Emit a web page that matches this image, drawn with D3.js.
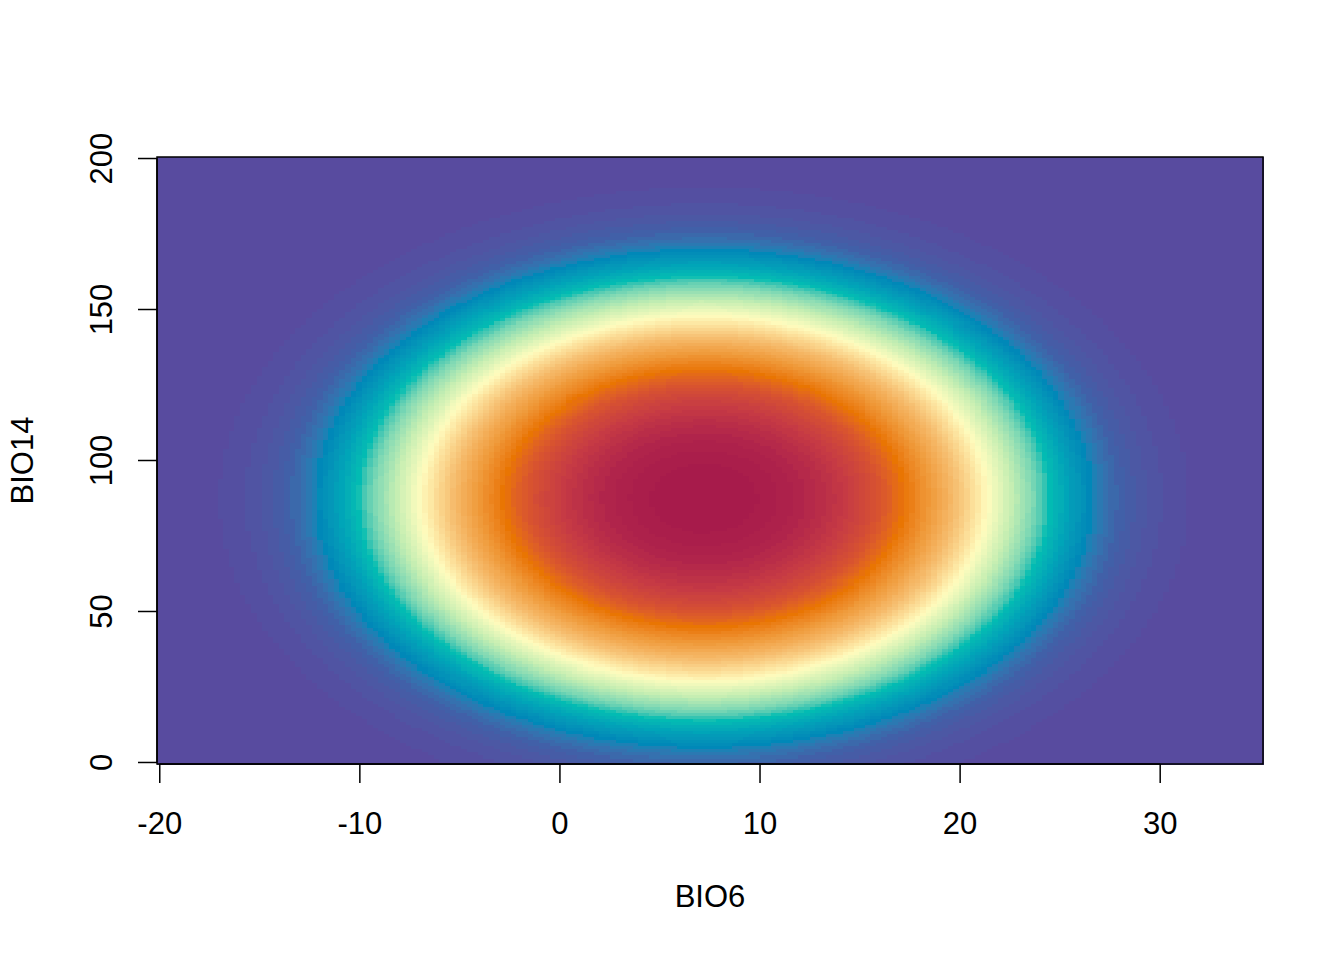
<!DOCTYPE html>
<html>
<head>
<meta charset="utf-8">
<script src="https://cdn.jsdelivr.net/npm/d3@7"></script>
<style>
  body { margin: 0; background: #fff; }
  text { font-family: "Liberation Sans", Arial, Helvetica, sans-serif; fill: #000; }
</style>
</head>
<body>
<svg id="chart"></svg>
<script>
// grid of the response surface (BIO6 x BIO14)
const bio6Range = [-20, 35];
const bio14Range = [0, 200];
const gridCount = [200, 200];

// fitted logistic model, quadratic terms
const coefNames = ["(Intercept)", "BIO6", "I(BIO6^2)", "BIO14", "I(BIO14^2)"];
const coefValues = [-3.451, 0.16525, -0.011476, 0.11087, -0.0006328];

const xTicks = [-20, -10, 0, 10, 20, 30];
const yTicks = [0, 50, 100, 150, 200];
const xTitle = "BIO6";
const yTitle = "BIO14";

// reversed "Spectral", low -> high
const paletteStops = [0, 0.05, 0.10, 0.16, 0.22, 0.28, 0.37, 0.48, 0.62, 0.72, 0.80, 0.86, 0.92, 0.97, 1];
const paletteColors = ["#584B9F", "#4160A8", "#0088B8", "#00A4B8", "#00BFB2", "#7DD8B4", "#C4EEB2",
                       "#FEFCBE", "#F6BE70", "#EF9A3A", "#E97400", "#D85230", "#C63A44", "#B0244B", "#A71B4B"];
const nColors = 100;

window.onload = function() {
    const width = 1344, height = 960;
    const left = 157, right = 1263, top = 157, bottom = 764;
    const fontSize = "31px";

    var svg = d3.select("#chart").attr("width", width).attr("height", height);

    var xs = d3.range(gridCount[0]).map(i => bio6Range[0] + i * (bio6Range[1] - bio6Range[0]) / (gridCount[0] - 1));
    var ys = d3.range(gridCount[1]).map(j => bio14Range[0] + j * (bio14Range[1] - bio14Range[0]) / (gridCount[1] - 1));
    var dx = xs[1] - xs[0], dy = ys[1] - ys[0];

    var coef = {};
    coefNames.forEach((n, i) => coef[n] = coefValues[i]);

    function predict(a, b) {
        var eta = coef["(Intercept)"] + coef["BIO6"] * a + coef["I(BIO6^2)"] * a * a
                + coef["BIO14"] * b + coef["I(BIO14^2)"] * b * b;
        return 1 / (1 + Math.exp(-eta));
    }

    var cells = [];
    xs.forEach(function(a, i) {
        ys.forEach(function(b, j) {
            cells.push({x: a, y: b, z: predict(a, b)});
        });
    });

    var x = d3.scaleLinear().domain([bio6Range[0] - dx / 2, bio6Range[1] + dx / 2]).range([left, right]);
    var y = d3.scaleLinear().domain([bio14Range[0] - dy / 2, bio14Range[1] + dy / 2]).range([bottom, top]);

    var ramp = d3.scaleLinear().domain(paletteStops).range(paletteColors).interpolate(d3.interpolateLab);
    var cols = d3.range(nColors).map(k => ramp(k / (nColors - 1)));
    var zext = d3.extent(cells, d => d.z);
    var color = d3.scaleQuantize().domain(zext).range(cols);

    var cw = x(dx) - x(0), ch = y(0) - y(dy);
    svg.append("g")
       .attr("shape-rendering", "crispEdges")
       .selectAll("rect")
       .data(cells)
       .enter().append("rect")
       .attr("x", d => x(d.x) - cw / 2)
       .attr("y", d => y(d.y) - ch / 2)
       .attr("width", cw + 0.6)
       .attr("height", ch + 0.6)
       .attr("fill", d => color(d.z));

    // box
    svg.append("rect")
       .attr("x", left).attr("y", top)
       .attr("width", right - left).attr("height", bottom - top)
       .attr("fill", "none").attr("stroke", "#000").attr("stroke-width", 1.5);

    // x axis
    var gx = svg.append("g").attr("transform", "translate(0," + bottom + ")");
    gx.append("line")
      .attr("x1", x(xTicks[0])).attr("x2", x(xTicks[xTicks.length - 1]))
      .attr("stroke", "#000").attr("stroke-width", 1.5);
    gx.selectAll(".tick").data(xTicks).enter().append("line")
      .attr("x1", d => x(d)).attr("x2", d => x(d))
      .attr("y1", 0).attr("y2", 19)
      .attr("stroke", "#000").attr("stroke-width", 1.5);
    gx.selectAll(".lab").data(xTicks).enter().append("text")
      .attr("x", d => x(d)).attr("y", 70)
      .attr("text-anchor", "middle").attr("font-size", fontSize)
      .text(d => d);

    // y axis
    var gy = svg.append("g").attr("transform", "translate(" + left + ",0)");
    gy.append("line")
      .attr("y1", y(yTicks[0])).attr("y2", y(yTicks[yTicks.length - 1]))
      .attr("stroke", "#000").attr("stroke-width", 1.5);
    gy.selectAll(".tick").data(yTicks).enter().append("line")
      .attr("y1", d => y(d)).attr("y2", d => y(d))
      .attr("x1", 0).attr("x2", -19)
      .attr("stroke", "#000").attr("stroke-width", 1.5);
    gy.selectAll(".lab").data(yTicks).enter().append("text")
      .attr("transform", d => "translate(-45," + y(d) + ") rotate(-90)")
      .attr("text-anchor", "middle").attr("font-size", fontSize)
      .text(d => d);

    svg.append("text")
       .attr("x", (left + right) / 2).attr("y", 907)
       .attr("text-anchor", "middle").attr("font-size", fontSize)
       .text(xTitle);
    svg.append("text")
       .attr("transform", "translate(33," + (top + bottom) / 2 + ") rotate(-90)")
       .attr("text-anchor", "middle").attr("font-size", fontSize)
       .text(yTitle);
};
</script>
</body>
</html>
